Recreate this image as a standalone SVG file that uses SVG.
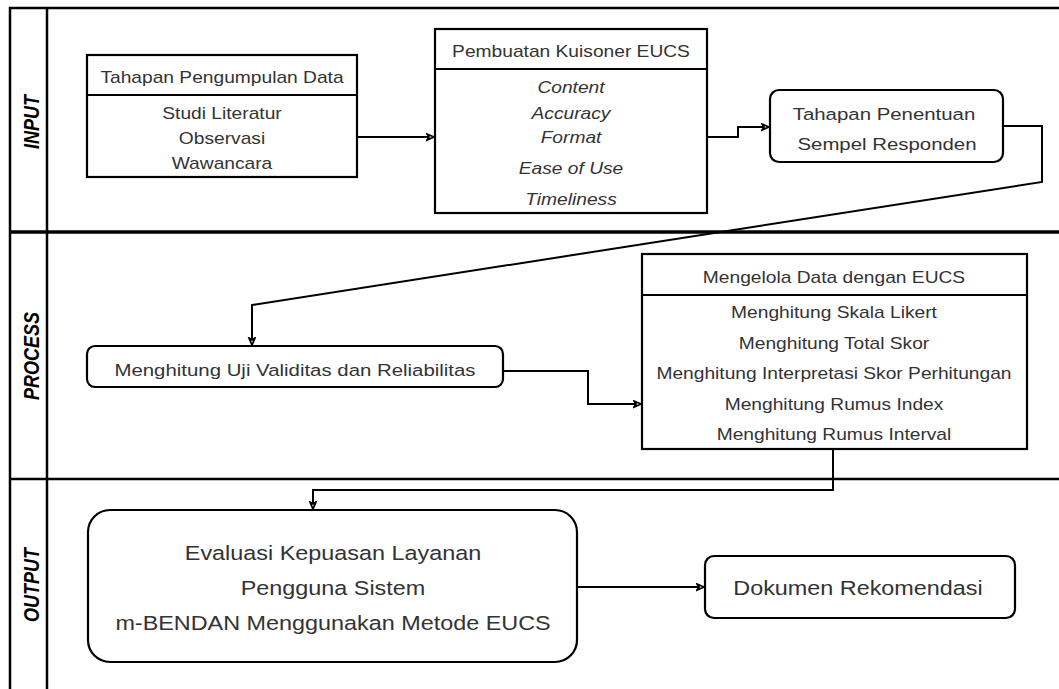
<svg xmlns="http://www.w3.org/2000/svg" width="1059" height="689" viewBox="0 0 1059 689">
<style>
.ln{fill:none;stroke:#000;stroke-width:2}
.bx{fill:#fff;stroke:#000;stroke-width:2.2}
.t{font-family:"Liberation Sans",Arial,sans-serif;font-size:16px;fill:#333;text-anchor:middle}
.i{font-style:italic}
.m{font-size:17px}
.l{font-size:19.5px}
.lab{font-family:"Liberation Sans",Arial,sans-serif;font-size:18px;font-weight:bold;font-style:italic;fill:#000;text-anchor:middle}
</style>
<defs>
<marker id="ah" markerWidth="10" markerHeight="10" refX="8" refY="4" orient="auto" markerUnits="userSpaceOnUse">
<path d="M1,1 L8,4 L1,7 L3,4 Z" fill="#fff" stroke="#000" stroke-width="1.8" stroke-linejoin="miter"/>
</marker>
</defs>
<rect width="1059" height="689" fill="#fff"/>
<g id="lanes">
<line class="ln" x1="9" y1="8" x2="1059" y2="8" style="stroke-width:2.5"/>
<line class="ln" x1="9" y1="232" x2="1059" y2="232" style="stroke-width:3.5"/>
<line class="ln" x1="9" y1="479" x2="1059" y2="479" style="stroke-width:2.5"/>
<line class="ln" x1="10" y1="7" x2="10" y2="689" style="stroke-width:2.5"/>
<line class="ln" x1="47" y1="7" x2="47" y2="689" style="stroke-width:2.5"/>
<text class="lab" transform="translate(39,122) scale(1.2,1) rotate(-90)">INPUT</text>
<text class="lab" transform="translate(39,356) scale(1.2,1) rotate(-90)">PROCESS</text>
<text class="lab" transform="translate(39,585) scale(1.2,1) rotate(-90)">OUTPUT</text>
</g>
<g id="connectors">
<path class="ln" d="M357,137 H434" marker-end="url(#ah)"/>
<path class="ln" d="M707,137 H738 V127 H769" marker-end="url(#ah)"/>
<path class="ln" d="M1003,126 H1042 V182 L252,305 V345" marker-end="url(#ah)"/>
<path class="ln" d="M503,371 H588 V404 H641" marker-end="url(#ah)"/>
<path class="ln" d="M833,449 V490 H313 V509" marker-end="url(#ah)"/>
<path class="ln" d="M577,587 H704" marker-end="url(#ah)"/>
</g>
<g id="node-pengumpulan">
<rect class="bx" x="87" y="55" width="270" height="122"/>
<line class="ln" x1="87" y1="95" x2="357" y2="95"/>
<text class="t" transform="translate(222,83) scale(1.2,1)">Tahapan Pengumpulan Data</text>
<text class="t" transform="translate(222,119) scale(1.2,1)">Studi Literatur</text>
<text class="t" transform="translate(222,144) scale(1.2,1)">Observasi</text>
<text class="t" transform="translate(222,169) scale(1.2,1)">Wawancara</text>
</g>
<g id="node-kuisoner">
<rect class="bx" x="435" y="29" width="272" height="184"/>
<line class="ln" x1="435" y1="69" x2="707" y2="69"/>
<text class="t" transform="translate(571,57) scale(1.2,1)">Pembuatan Kuisoner EUCS</text>
<text class="t i" transform="translate(571,93) scale(1.2,1)">Content</text>
<text class="t i" transform="translate(571,119) scale(1.2,1)">Accuracy</text>
<text class="t i" transform="translate(571,143) scale(1.2,1)">Format</text>
<text class="t i" transform="translate(571,174) scale(1.2,1)">Ease of Use</text>
<text class="t i" transform="translate(571,205) scale(1.2,1)">Timeliness</text>
</g>
<g id="node-sampel">
<rect class="bx" x="770" y="90" width="233" height="72" rx="9"/>
<text class="t m" transform="translate(884,120) scale(1.2,1)">Tahapan Penentuan</text>
<text class="t m" transform="translate(887,150) scale(1.2,1)">Sempel Responden</text>
</g>
<g id="node-validitas">
<rect class="bx" x="87" y="346" width="416" height="41" rx="8"/>
<text class="t m" transform="translate(295,376) scale(1.2,1)">Menghitung Uji Validitas dan Reliabilitas</text>
</g>
<g id="node-mengelola">
<rect class="bx" x="642" y="254" width="385" height="195"/>
<line class="ln" x1="642" y1="295" x2="1027" y2="295"/>
<text class="t" transform="translate(834,283) scale(1.2,1)">Mengelola Data dengan EUCS</text>
<text class="t" transform="translate(834,318) scale(1.2,1)">Menghitung Skala Likert</text>
<text class="t" transform="translate(834,349) scale(1.2,1)">Menghitung Total Skor</text>
<text class="t" transform="translate(834,379) scale(1.2,1)">Menghitung Interpretasi Skor Perhitungan</text>
<text class="t" transform="translate(834,410) scale(1.2,1)">Menghitung Rumus Index</text>
<text class="t" transform="translate(834,440) scale(1.2,1)">Menghitung Rumus Interval</text>
</g>
<g id="node-evaluasi">
<rect class="bx" x="88" y="510" width="489" height="152" rx="22"/>
<text class="t l" transform="translate(333,560) scale(1.2,1)">Evaluasi Kepuasan Layanan</text>
<text class="t l" transform="translate(333,595) scale(1.2,1)">Pengguna Sistem</text>
<text class="t l" transform="translate(333,630) scale(1.2,1)">m-BENDAN Menggunakan Metode EUCS</text>
</g>
<g id="node-dokumen">
<rect class="bx" x="705" y="556" width="310" height="62" rx="9"/>
<text class="t l" transform="translate(858,595) scale(1.2,1)">Dokumen Rekomendasi</text>
</g>
</svg>
